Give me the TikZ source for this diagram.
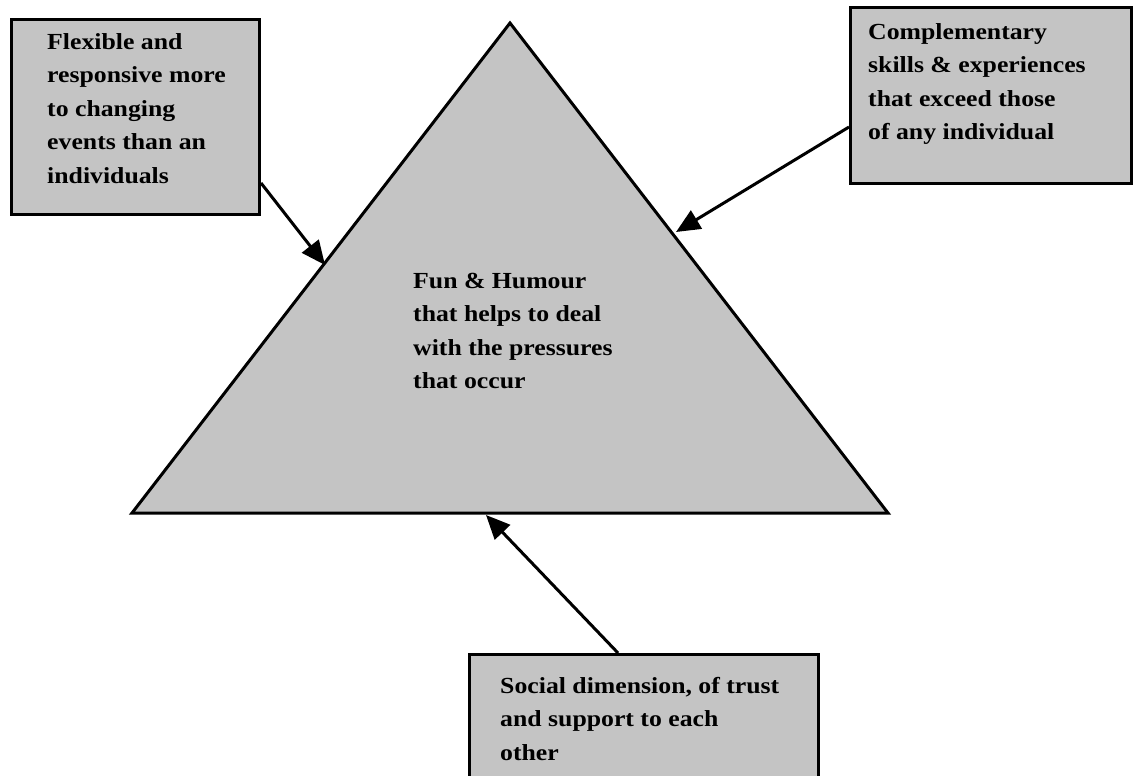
\documentclass[tikz,border=0pt]{standalone}
\usepackage{fontspec}
\setmainfont{Liberation Serif}[FakeStretch=1.12]
\usetikzlibrary{arrows.meta,calc}
\definecolor{panel}{RGB}{196,196,196}
\begin{document}
\begin{tikzpicture}[x=1pt,y=-1pt,
  box/.style={draw=black, line width=3pt, fill=panel, inner sep=0pt, anchor=north west},
  txt/.style={anchor=north west, align=left, inner sep=0pt,
              font=\bfseries\fontsize{23}{33.5}\selectfont},
  link/.style={line width=3pt, -{Triangle[length=24pt,width=21pt]}}]
\useasboundingbox[fill=white] (0,0) rectangle (1136,776);

% central triangle
\coordinate (apex) at (510,23);
\coordinate (right) at (888,513);
\coordinate (left) at (132,513);
\draw[line width=3pt, fill=panel, line join=miter] (apex) -- (right) -- (left) -- cycle;
\node[txt] (fun) at (413,273) {Fun \& Humour\\that helps to deal\\with the pressures\\that occur};

% surrounding boxes
\node[box, minimum width=248pt, minimum height=195pt] (flex) at (10,18) {};
\node[txt] (flextxt) at (47,33) {Flexible and\\responsive more\\to changing\\events than an\\individuals};

\node[box, minimum width=281pt, minimum height=176pt] (skills) at (849,6) {};
\node[txt] (skillstxt) at (868,23) {Complementary\\skills \& experiences\\that exceed those\\of any individual};

\node[box, minimum width=349pt, minimum height=150pt] (social) at (468,653) {};
\node[txt] (socialtxt) at (500,677) {Social dimension, of trust\\and support to each\\other};

% points where the arrows meet the triangle
\coordinate (hitL) at (325,265);
\coordinate (hitR) at (676,232);
\coordinate (hitB) at (486,515);

\draw[link] ($(flex.north east)+(0,165)$) -- (hitL);
\draw[link] ($(skills.north west)+(0,121)$) -- (hitR);
\draw[link] ($(social.north west)+(150,0)$) -- (hitB);
\end{tikzpicture}
\end{document}
